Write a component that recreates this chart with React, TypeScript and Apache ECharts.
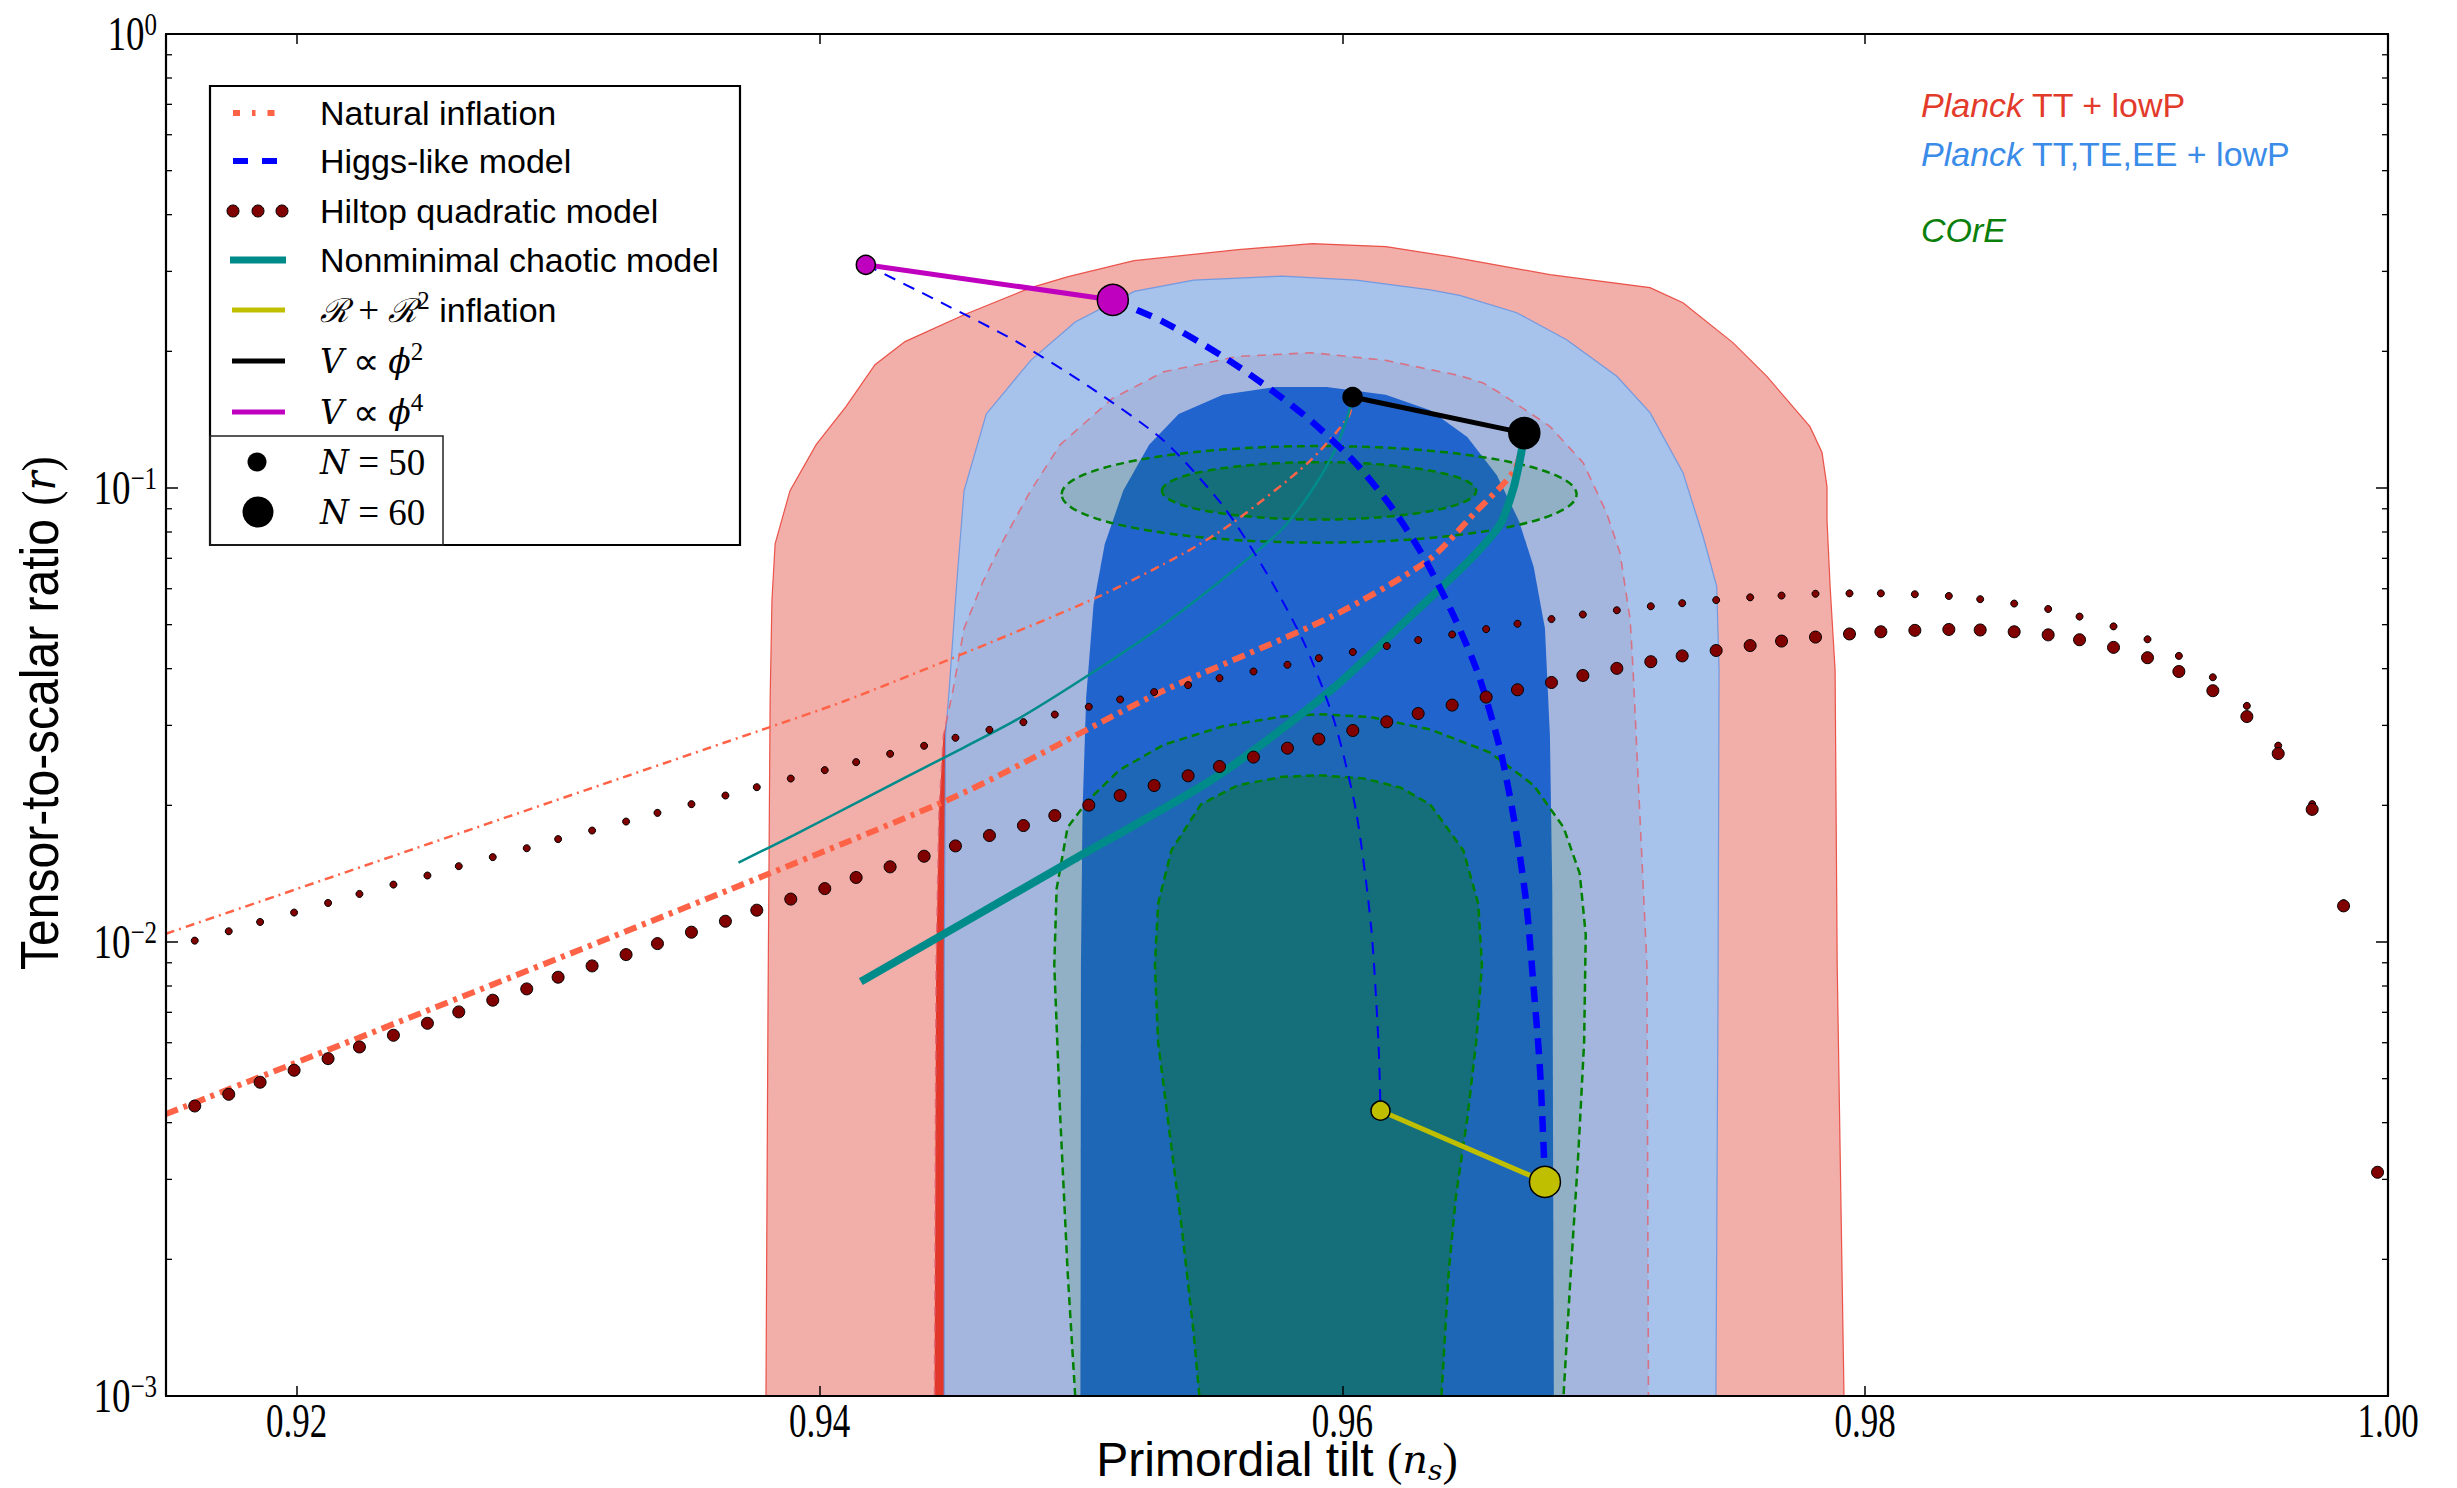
import { useEffect, useRef } from 'react';
import * as echarts from 'echarts';

type Pt = [number, number];

// ---- axes ----
const NS_MIN = 0.915;
const NS_MAX = 1.0;
const R_MIN = 0.001;
const R_MAX = 1;
const NS_TICKS = [0.92, 0.94, 0.96, 0.98, 1.0];
const R_DECADES = [0.001, 0.01, 0.1, 1];
const R_MINOR_MULTIPLES = [2, 3, 4, 5, 6, 7, 8, 9];
const R_MINOR_DECADES = [0.001, 0.01, 0.1];

// ---- Planck 2015 likelihood contours (n_s, r) ----
const PLANCK_TT_95: Pt[] = [
  [0.93795, 0.001], [0.93803, 0.007458], [0.93811, 0.03417], [0.93818, 0.05673], [0.9383, 0.07535],
  [0.93887, 0.09865], [0.93987, 0.1246], [0.94101, 0.1511], [0.94212, 0.1869], [0.94327, 0.2101],
  [0.94553, 0.2408], [0.94809, 0.2763], [0.94951, 0.2921], [0.95203, 0.3168], [0.95601, 0.335],
  [0.95884, 0.3454], [0.96167, 0.3402], [0.96412, 0.3233], [0.96794, 0.2951], [0.97177, 0.2763],
  [0.97303, 0.256], [0.97494, 0.209], [0.97625, 0.1759], [0.97789, 0.1365], [0.97835, 0.1197],
  [0.97854, 0.1007], [0.97854, 0.08513], [0.97866, 0.06061], [0.97885, 0.03978], [0.97893, 0.008901],
  [0.97919, 0.001],
];
const PLANCK_TT_68: Pt[] = [
  [0.9444, 0.001], [0.94446, 0.008889], [0.94457, 0.01933], [0.94474, 0.0285], [0.94511, 0.03597],
  [0.94553, 0.04906], [0.94624, 0.06194], [0.94695, 0.07521], [0.94808, 0.09874], [0.94921, 0.1246],
  [0.95119, 0.1573], [0.95317, 0.1803], [0.95601, 0.1949], [0.95883, 0.1986], [0.96166, 0.191],
  [0.96449, 0.1768], [0.96539, 0.1703], [0.96603, 0.1619], [0.96794, 0.1367], [0.96921, 0.1137],
  [0.97011, 0.0881], [0.97062, 0.07191], [0.97101, 0.05127], [0.97112, 0.03978], [0.97165, 0.008889],
  [0.97171, 0.001],
];
const PLANCK_ALL_95: Pt[] = [
  [0.94477, 0.001], [0.94477, 0.008889], [0.94482, 0.0285], [0.94496, 0.03597], [0.94525, 0.06194],
  [0.94553, 0.09874], [0.94638, 0.1456], [0.94808, 0.191], [0.94978, 0.232], [0.95204, 0.271],
  [0.95431, 0.2871], [0.9577, 0.2929], [0.96053, 0.2871], [0.96336, 0.2731], [0.96449, 0.2657],
  [0.96667, 0.2433], [0.96858, 0.2122], [0.9705, 0.1762], [0.97177, 0.1465], [0.97303, 0.1081],
  [0.9738, 0.07818], [0.97432, 0.06071], [0.97441, 0.03978], [0.97437, 0.007458], [0.97429, 0.001],
];
const PLANCK_ALL_68: Pt[] = [
  [0.94998, 0.001], [0.95, 0.008889], [0.95006, 0.01933], [0.9502, 0.03461], [0.95048, 0.05515],
  [0.95091, 0.07521], [0.95162, 0.09874], [0.95261, 0.1246], [0.95374, 0.1456], [0.95543, 0.1604],
  [0.95742, 0.1668], [0.9594, 0.1668], [0.96166, 0.1604], [0.96336, 0.1484], [0.96478, 0.1296],
  [0.96591, 0.1067], [0.96676, 0.08453], [0.96732, 0.06697], [0.96775, 0.04906], [0.96794, 0.0285],
  [0.96803, 0.01311], [0.96809, 0.001],
];

// ---- COrE forecasts ----
const CORE_LOW_95: Pt[] = [
  [0.94978, 0.001], [0.94949, 0.001881], [0.94921, 0.004088], [0.94898, 0.008889], [0.94907, 0.01311],
  [0.94949, 0.01789], [0.95026, 0.02048], [0.95148, 0.02393], [0.95317, 0.0272], [0.95543, 0.02987],
  [0.9577, 0.03139], [0.95911, 0.03176], [0.9611, 0.03128], [0.96336, 0.02939], [0.96563, 0.02618],
  [0.96732, 0.02214], [0.96846, 0.01789], [0.96908, 0.01416], [0.96931, 0.01038], [0.96925, 0.006031],
  [0.96902, 0.003367], [0.96874, 0.001881], [0.96846, 0.001],
];
const CORE_LOW_68: Pt[] = [
  [0.95453, 0.001], [0.95431, 0.001379], [0.95388, 0.002283], [0.95332, 0.004088], [0.95295, 0.006031],
  [0.95283, 0.008889], [0.95295, 0.01213], [0.95346, 0.01591], [0.95459, 0.02009], [0.956, 0.02214],
  [0.9577, 0.02311], [0.95911, 0.02329], [0.96081, 0.02293], [0.96223, 0.02188], [0.96336, 0.02009],
  [0.96463, 0.01591], [0.9652, 0.01213], [0.96534, 0.008889], [0.96512, 0.006031], [0.96478, 0.004088],
  [0.96435, 0.002773], [0.96407, 0.001881], [0.96379, 0.001],
];
const CORE_TOP_95_NS = [0.94926, 0.96896];
const CORE_TOP_95_R = [0.0758, 0.1237];
const CORE_TOP_68_NS = [0.9531, 0.96512];
const CORE_TOP_68_R = [0.0852, 0.114];

// ---- model predictions ----
const NATURAL_N50: Pt[] = [
  [0.915, 0.01043], [0.9378, 0.02934], [0.94091, 0.03386], [0.94509, 0.0422], [0.95058, 0.05732],
  [0.95398, 0.07202], [0.95586, 0.08425], [0.95869, 0.1137], [0.96024, 0.1438], [0.96039, 0.1586],
];
const NATURAL_N60: Pt[] = [
  [0.915, 0.004179], [0.94465, 0.02025], [0.95299, 0.03539], [0.95957, 0.05205], [0.96331, 0.0695],
  [0.96507, 0.08823], [0.9666, 0.1097], [0.96696, 0.1321],
];
const HIGGS_N50: Pt[] = [
  [0.94177, 0.3102], [0.94468, 0.2557], [0.94751, 0.2105], [0.95034, 0.1668], [0.95317, 0.1271],
  [0.95543, 0.09137], [0.95714, 0.06443], [0.95855, 0.04542], [0.95968, 0.0308], [0.96053, 0.01933],
  [0.9611, 0.0108], [0.96138, 0.006031], [0.96146, 0.00425],
];
const HIGGS_N60: Pt[] = [
  [0.95122, 0.2596], [0.95317, 0.232], [0.95543, 0.1949], [0.95714, 0.1668], [0.95883, 0.1401],
  [0.96053, 0.1131], [0.96195, 0.08961], [0.96308, 0.07097], [0.96421, 0.05303], [0.9652, 0.03888],
  [0.96605, 0.02637], [0.96662, 0.01789], [0.96704, 0.01213], [0.96732, 0.007911], [0.96755, 0.005365],
  [0.96769, 0.003639], [0.96775, 0.002962],
];
const NONMINIMAL_N50: Pt[] = [
  [0.9369, 0.01496], [0.93902, 0.0172], [0.94185, 0.02088], [0.94469, 0.02535], [0.94751, 0.0308],
  [0.95034, 0.03888], [0.95317, 0.05006], [0.956, 0.06697], [0.9577, 0.08131], [0.95883, 0.09874],
  [0.95968, 0.1199], [0.96019, 0.1428], [0.96039, 0.1586],
];
const NONMINIMAL_N60: Pt[] = [
  [0.94158, 0.00818], [0.9497, 0.01517], [0.95519, 0.02314], [0.95958, 0.03592], [0.96287, 0.05393],
  [0.96488, 0.0695], [0.96603, 0.083], [0.96653, 0.09914], [0.96683, 0.1184], [0.96696, 0.1323],
];
const HILLTOP_NS = [
  0.9161, 0.9174, 0.9186, 0.9199, 0.9212, 0.9224, 0.9237, 0.925, 0.9262, 0.9275, 0.9288, 0.93,
  0.9313, 0.9326, 0.9338, 0.9351, 0.9364, 0.9376, 0.9389, 0.9402, 0.9414, 0.9427, 0.944, 0.9452,
  0.9465, 0.9478, 0.949, 0.9503, 0.9515, 0.9528, 0.9541, 0.9553, 0.9566, 0.9579, 0.9591, 0.9604,
  0.9617, 0.9629, 0.9642, 0.9655, 0.9667, 0.968, 0.9692, 0.9705, 0.9718, 0.973, 0.9743, 0.9756,
  0.9768, 0.9781, 0.9794, 0.9806, 0.9819, 0.9832, 0.9844, 0.9857, 0.987, 0.9882, 0.9895, 0.9908,
  0.992, 0.9933, 0.9946, 0.9958, 0.9971, 0.9983, 0.9996,
];
const HILLTOP_R_N50 = [
  0.01007, 0.01056, 0.01107, 0.01161, 0.01219, 0.01276, 0.01338, 0.01401, 0.01469, 0.01538, 0.01609, 0.01685,
  0.0176, 0.01842, 0.01925, 0.02012, 0.02102, 0.02193, 0.02291, 0.02391, 0.0249, 0.02597, 0.02705, 0.02817,
  0.02933, 0.0305, 0.0317, 0.03297, 0.03421, 0.03552, 0.0368, 0.03813, 0.03943, 0.04079, 0.0422, 0.04351,
  0.04486, 0.04624, 0.04757, 0.04889, 0.05023, 0.05144, 0.05265, 0.05379, 0.05489, 0.05576, 0.05664, 0.05743,
  0.05795, 0.05848, 0.0586, 0.0586, 0.05834, 0.05784, 0.0569, 0.05565, 0.05414, 0.05209, 0.04957, 0.04643,
  0.04268, 0.03829, 0.03312, 0.02707, 0.02012, 0.01217, 0.00311,
];
const HILLTOP_R_N60 = [
  0.004353, 0.004619, 0.00491, 0.005218, 0.005534, 0.005872, 0.006231, 0.006621, 0.007015, 0.007444, 0.007883, 0.008364,
  0.008858, 0.00938, 0.009919, 0.01051, 0.01111, 0.01175, 0.01243, 0.01311, 0.01387, 0.01464, 0.01545, 0.01628,
  0.01716, 0.01805, 0.01899, 0.02002, 0.02102, 0.02211, 0.02323, 0.02435, 0.02554, 0.02673, 0.02798, 0.02923,
  0.03055, 0.03186, 0.03325, 0.03463, 0.03594, 0.03729, 0.03864, 0.04006, 0.04144, 0.04268, 0.04386, 0.04497,
  0.04601, 0.04695, 0.0477, 0.04823, 0.04858, 0.0488, 0.04867, 0.04823, 0.04748, 0.04632, 0.04456, 0.04229,
  0.03943, 0.03577, 0.03137, 0.026, 0.01959, 0.01201, 0.00311,
];
// endpoints: N = 50 first, N = 60 second
const PHI4_POINTS: Pt[] = [[0.94177, 0.3102], [0.95122, 0.2596]];
const PHI2_POINTS: Pt[] = [[0.96039, 0.1586], [0.96696, 0.1321]];
const STAROBINSKY_POINTS: Pt[] = [[0.96146, 0.00425], [0.96775, 0.002962]];

// ---- styling ----
const SANS = "'Liberation Sans', Arial, Helvetica, sans-serif";
const SERIF = "'Liberation Serif', 'Times New Roman', serif";
const MATH = "'DejaVu Serif', 'Liberation Serif', serif";
const C_NATURAL = '#ff6347';
const C_HIGGS = '#0000ff';
const C_HILLTOP = '#800000';
const C_TEAL = '#008b8b';
const C_YELLOW = '#bfbf00';
const C_MAGENTA = '#bf00bf';
const C_CORE = '#008000';

function regionSeries(pts: Pt[], fill: string | null, stroke?: { color: string; width: number; dash?: number[] }) {
  return {
    type: 'custom',
    silent: true,
    clip: true,
    data: pts,
    renderItem: (params: any, api: any) => {
      if (params.dataIndex !== 0) return null;
      const px = pts.map((p) => api.coord(p));
      const children: any[] = [];
      if (fill) children.push({ type: 'polygon', shape: { points: px }, style: { fill, stroke: null } });
      if (stroke)
        children.push({
          type: 'polyline',
          shape: { points: px },
          style: { fill: null, stroke: stroke.color, lineWidth: stroke.width, lineDash: stroke.dash || null },
        });
      return { type: 'group', children };
    },
  };
}

function ellipseSeries(nsRange: number[], rRange: number[], fill: string) {
  return {
    type: 'custom',
    silent: true,
    clip: true,
    data: [[nsRange[0], rRange[0]], [nsRange[1], rRange[1]]],
    renderItem: (params: any, api: any) => {
      if (params.dataIndex !== 0) return null;
      const a = api.coord([nsRange[0], rRange[0]]);
      const b = api.coord([nsRange[1], rRange[1]]);
      return {
        type: 'ellipse',
        shape: {
          cx: (a[0] + b[0]) / 2,
          cy: (a[1] + b[1]) / 2,
          rx: Math.abs(b[0] - a[0]) / 2,
          ry: Math.abs(b[1] - a[1]) / 2,
        },
        style: { fill, stroke: C_CORE, lineWidth: 2.5, lineDash: [8, 5] },
      };
    },
  };
}

function curve(pts: Pt[], color: string, width: number, dash: any) {
  return {
    type: 'line',
    data: pts,
    symbol: 'none',
    silent: true,
    smooth: 0.25,
    lineStyle: { color, width, type: dash, cap: 'butt' },
    z: 3,
  };
}

function modelPair(pts: Pt[], color: string) {
  return {
    type: 'line',
    data: pts,
    symbol: 'circle',
    showSymbol: true,
    showAllSymbol: true,
    silent: true,
    symbolSize: (_v: any, p: any) => (p.dataIndex === 0 ? 19 : 31),
    lineStyle: { color, width: 5 },
    itemStyle: { color, borderColor: '#000', borderWidth: 1.5 },
    z: 6,
  };
}

function hilltop(rs: number[], size: number) {
  return {
    type: 'scatter',
    data: HILLTOP_NS.map((x, i) => [x, rs[i]]),
    symbol: 'circle',
    symbolSize: size,
    silent: true,
    itemStyle: { color: C_HILLTOP, borderColor: '#000', borderWidth: 1, opacity: 1 },
    z: 4,
  };
}

const minorTicks: Pt[] = [];
R_MINOR_DECADES.forEach((d) => R_MINOR_MULTIPLES.forEach((m) => minorTicks.push([NS_MIN, +(m * d).toPrecision(3)])));

const rowY = [113, 161, 211, 260, 310, 361, 412, 462, 512];
const mathRich = {
  t: { fontFamily: SANS, fontSize: 34, lineHeight: 44, fill: '#000' },
  m: { fontFamily: MATH, fontStyle: 'italic', fontSize: 33, lineHeight: 44, fill: '#000' },
  r: { fontFamily: SERIF, fontSize: 37, lineHeight: 44, fill: '#000' },
  s: { fontFamily: SERIF, fontSize: 25, lineHeight: 26, verticalAlign: 'top', fill: '#000' },
};

function legendGraphics() {
  const els: any[] = [];
  els.push({ type: 'rect', shape: { x: 210, y: 86, width: 530, height: 459 }, style: { fill: '#fff', stroke: '#000', lineWidth: 2.2 }, z: 50 });
  els.push({ type: 'rect', shape: { x: 210, y: 436, width: 233, height: 109 }, style: { fill: null, stroke: '#222', lineWidth: 1.5 }, z: 51 });
  const lineEl = (y: number, color: string, w: number, dash?: number[], x1 = 232, x2 = 285) => ({
    type: 'line',
    shape: { x1, y1: y, x2, y2: y },
    style: { stroke: color, lineWidth: w, lineDash: dash || null, lineCap: 'butt' },
    z: 52,
  });
  els.push(lineEl(rowY[0], C_NATURAL, 6, [7, 12, 3.5, 12], 233, 285));
  els.push(lineEl(rowY[1], C_HIGGS, 6, [15, 14], 233, 278));
  [233, 258, 282].forEach((cx) =>
    els.push({ type: 'circle', shape: { cx, cy: rowY[2], r: 6 }, style: { fill: C_HILLTOP, stroke: '#000', lineWidth: 1 }, z: 52 })
  );
  els.push(lineEl(rowY[3], C_TEAL, 7, undefined, 230, 286));
  els.push(lineEl(rowY[4], C_YELLOW, 5));
  els.push(lineEl(rowY[5], '#000', 5));
  els.push(lineEl(rowY[6], C_MAGENTA, 5));
  els.push({ type: 'circle', shape: { cx: 257, cy: rowY[7], r: 9.5 }, style: { fill: '#000' }, z: 52 });
  els.push({ type: 'circle', shape: { cx: 258, cy: rowY[8], r: 15.5 }, style: { fill: '#000' }, z: 52 });

  const labels = [
    '{t|Natural inflation}',
    '{t|Higgs-like model}',
    '{t|Hiltop quadratic model}',
    '{t|Nonminimal chaotic model}',
    '{m|ℛ}{r| + }{m|ℛ}{s|2}{t| inflation}',
    '{m|V}{r| ∝ }{m|ϕ}{s|2}',
    '{m|V}{r| ∝ }{m|ϕ}{s|4}',
    '{m|N}{r| = 50}',
    '{m|N}{r| = 60}',
  ];
  labels.forEach((text, i) =>
    els.push({
      type: 'text',
      x: 320,
      y: rowY[i],
      z: 53,
      style: { text, rich: mathRich, align: 'left', verticalAlign: 'middle', fill: '#000' },
    })
  );
  return els;
}

function annotationGraphics() {
  const els: any[] = [];
  const tag = (y: number, color: string, text: string) => ({
    type: 'text',
    x: 1921,
    y,
    z: 40,
    style: {
      text,
      align: 'left',
      verticalAlign: 'middle',
      fill: color,
      rich: {
        i: { fontFamily: SANS, fontStyle: 'italic', fontSize: 34, fill: color },
        n: { fontFamily: SANS, fontSize: 34, fill: color },
      },
    },
  });
  els.push(tag(105, '#e33b2b', '{i|Planck}{n| TT + lowP}'));
  els.push(tag(154, '#3a8ce8', '{i|Planck}{n| TT,TE,EE + lowP}'));
  els.push(tag(230, '#0b7f0b', '{i|COrE}'));

  const titleRich = {
    a: { fontFamily: SANS, fontSize: 48, lineHeight: 50, fill: '#000' },
    p: { fontFamily: SERIF, fontSize: 46, lineHeight: 50, fill: '#000' },
    m: { fontFamily: MATH, fontStyle: 'italic', fontSize: 40, lineHeight: 50, fill: '#000' },
    b: { fontFamily: MATH, fontStyle: 'italic', fontSize: 28, lineHeight: 30, verticalAlign: 'bottom', fill: '#000' },
  };
  els.push({
    type: 'text',
    x: 1277,
    y: 1459,
    z: 40,
    style: { text: '{a|Primordial tilt }{p|(}{m|n}{b|s}{p|)}', rich: titleRich, align: 'center', verticalAlign: 'middle' },
  });
  els.push({
    type: 'text',
    x: 40,
    y: 713,
    rotation: Math.PI / 2,
    scaleY: 1.12,
    z: 40,
    style: { text: '{a|Tensor-to-scalar ratio }{p|(}{m|r}{p|)}', rich: titleRich, align: 'center', verticalAlign: 'middle' },
  });
  return els;
}

// tick labels placed through the axes' own scales
function tickLabelGraphics(chart: any) {
  const els: any[] = [];
  NS_TICKS.forEach((v) => {
    const px = chart.convertToPixel({ xAxisIndex: 0 }, v);
    els.push({
      type: 'text',
      x: px,
      y: 1420,
      scaleY: 1.4,
      z: 40,
      style: { text: v.toFixed(2), fontFamily: SERIF, fontSize: 35, lineHeight: 28, fill: '#000', align: 'center', verticalAlign: 'middle' },
    });
  });
  const axisLeft = chart.convertToPixel({ xAxisIndex: 0 }, NS_MIN);
  R_DECADES.forEach((v) => {
    const py = chart.convertToPixel({ yAxisIndex: 0 }, v);
    const e = Math.round(Math.log10(v));
    els.push({
      type: 'text',
      x: axisLeft - 9,
      y: py,
      scaleY: 1.3,
      z: 40,
      style: {
        text: e === 0 ? '{b|10}{s|0}' : `{b|10}{s|−${-e}}`,
        align: 'right',
        verticalAlign: 'middle',
        fill: '#000',
        rich: {
          b: { fontFamily: SERIF, fontSize: 37, lineHeight: 40, fill: '#000' },
          s: { fontFamily: SERIF, fontSize: 25, lineHeight: 26, verticalAlign: 'top', fill: '#000' },
        },
      },
    });
  });
  return els;
}

export default function App() {
  const ref = useRef<HTMLDivElement>(null);

  useEffect(() => {
    const chart = echarts.init(ref.current as HTMLDivElement, undefined, { renderer: 'svg' });
    const axisLine = { show: true, onZero: false, lineStyle: { color: '#000', width: 2.2 } };
    const tickStyle = { color: '#000', width: 1.5 };

    chart.setOption({
      animation: false,
      backgroundColor: '#fff',
      grid: { left: 166, right: 69, top: 34, bottom: 92, outerBoundsMode: 'none', containLabel: false },
      xAxis: [
        {
          type: 'value',
          min: NS_MIN,
          max: NS_MAX,
          position: 'bottom',
          z: 10,
          axisLine,
          splitLine: { show: false },
          axisTick: { show: true, inside: true, length: 10, customValues: NS_TICKS, lineStyle: tickStyle },
          axisLabel: { show: false },
        },
        {
          type: 'value',
          min: NS_MIN,
          max: NS_MAX,
          position: 'top',
          z: 10,
          axisLine,
          splitLine: { show: false },
          axisTick: { show: true, inside: true, length: 10, customValues: NS_TICKS, lineStyle: tickStyle },
          axisLabel: { show: false },
        },
      ],
      yAxis: [
        {
          type: 'log',
          logBase: 10,
          min: R_MIN,
          max: R_MAX,
          position: 'left',
          z: 10,
          axisLine,
          splitLine: { show: false },
          axisTick: { show: true, inside: true, length: 12, lineStyle: tickStyle },
          axisLabel: { show: false },
        },
        {
          type: 'log',
          logBase: 10,
          min: R_MIN,
          max: R_MAX,
          position: 'right',
          z: 10,
          axisLine,
          splitLine: { show: false },
          axisTick: { show: true, inside: true, length: 12, lineStyle: tickStyle },
          axisLabel: { show: false },
        },
      ],
      series: [
        regionSeries(PLANCK_TT_95, '#f2aea8', { color: 'rgba(232,60,50,0.85)', width: 1.2 }),
        regionSeries(PLANCK_TT_68, '#e1382b'),
        regionSeries(PLANCK_ALL_95, 'rgba(159,196,242,0.9)', { color: 'rgba(105,150,225,0.9)', width: 1.2 }),
        regionSeries(PLANCK_TT_68, null, { color: 'rgba(228,95,110,0.8)', width: 1.6, dash: [9, 7] }),
        regionSeries(PLANCK_ALL_68, '#2264cd'),
        regionSeries(CORE_LOW_95, 'rgba(0,128,0,0.11)', { color: C_CORE, width: 2.5, dash: [8, 5] }),
        regionSeries(CORE_LOW_68, 'rgba(0,128,0,0.32)', { color: C_CORE, width: 2.5, dash: [8, 5] }),
        ellipseSeries(CORE_TOP_95_NS, CORE_TOP_95_R, 'rgba(0,128,0,0.11)'),
        ellipseSeries(CORE_TOP_68_NS, CORE_TOP_68_R, 'rgba(0,128,0,0.32)'),
        curve(NATURAL_N50, C_NATURAL, 2.5, [9, 5, 2, 5]),
        curve(NATURAL_N60, C_NATURAL, 6, [13, 6, 4, 6]),
        hilltop(HILLTOP_R_N50, 7),
        hilltop(HILLTOP_R_N60, 12),
        curve(NONMINIMAL_N50, C_TEAL, 2.5, 'solid'),
        curve(NONMINIMAL_N60, C_TEAL, 8, 'solid'),
        curve(HIGGS_N50, C_HIGGS, 2, [12, 9]),
        curve(HIGGS_N60, C_HIGGS, 6.5, [16, 10]),
        modelPair(PHI4_POINTS, C_MAGENTA),
        modelPair(PHI2_POINTS, '#000'),
        modelPair(STAROBINSKY_POINTS, C_YELLOW),
        {
          type: 'custom',
          silent: true,
          clip: false,
          z: 12,
          data: minorTicks,
          renderItem: (_p: any, api: any) => {
            const v = api.value(1);
            const a = api.coord([NS_MIN, v]);
            const b = api.coord([NS_MAX, v]);
            const st = { stroke: '#000', lineWidth: 1.3 };
            return {
              type: 'group',
              children: [
                { type: 'line', shape: { x1: a[0], y1: a[1], x2: a[0] + 6, y2: a[1] }, style: st },
                { type: 'line', shape: { x1: b[0] - 6, y1: b[1], x2: b[0], y2: b[1] }, style: st },
              ],
            };
          },
        },
      ],
    });

    chart.setOption({
      graphic: [...legendGraphics(), ...annotationGraphics(), ...tickLabelGraphics(chart)],
    });
    return () => chart.dispose();
  }, []);

  return (
    <div
      ref={ref}
      style={{ position: 'fixed', left: 0, top: 0, width: 2457, height: 1488, background: '#fff' }}
    />
  );
}
